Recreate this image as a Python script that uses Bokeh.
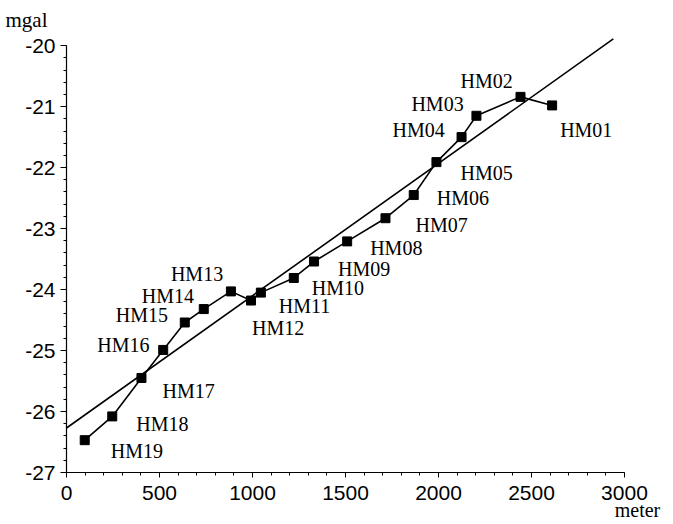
from bokeh.plotting import figure
from bokeh.models import ColumnDataSource, FixedTicker, Range1d, Title
from bokeh.core.properties import value
from bokeh.embed import file_html
from bokeh.resources import INLINE

# ---- data ----
stations = ["HM01", "HM02", "HM03", "HM04", "HM05", "HM06", "HM07", "HM08", "HM09", "HM10",
            "HM11", "HM12", "HM13", "HM14", "HM15", "HM16", "HM17", "HM18", "HM19"]
distance_m = [2611, 2441, 2204, 2124, 1989, 1867, 1715, 1509, 1331, 1222,
              1045, 992, 884, 738, 636, 520, 403, 246, 98]
gravity_mgal = [-20.98, -20.84, -21.15, -21.50, -21.91, -22.45, -22.83, -23.21, -23.54, -23.81,
                -24.05, -24.18, -24.03, -24.32, -24.54, -24.99, -25.45, -26.08, -26.47]
fit_x = [0, 2940]
fit_y = [-26.27, -19.89]
x_ticks = [0, 500, 1000, 1500, 2000, 2500, 3000]
y_ticks = [-27, -26, -25, -24, -23, -22, -21, -20]
x_unit = "meter"
y_unit = "mgal"

# ---- label placement (screen pixel offsets, styling only) ----
label_dx = [8, -60, -65, -69, 24, 23, 30, 23, 24, 18, 18, 1, -60, -62, -69, -66, 21, 24, 26]
label_dy = [25, -16, -12, -7, 11, 3, 7, 7, 7, 10, 13, 27, -17, -13, -7, -5, 13, 8, 11]

src = ColumnDataSource(dict(x=distance_m, y=gravity_mgal, name=stations, dx=label_dx, dy=label_dy))

p = figure(width=673, height=524, output_backend="svg", toolbar_location=None,
           x_range=Range1d(0, 3070), y_range=Range1d(-27, -19.85),
           min_border_left=66, min_border_right=36, min_border_top=34, min_border_bottom=52)
p.outline_line_color = None
p.xgrid.visible = False
p.ygrid.visible = False
p.background_fill_color = "white"
p.border_fill_color = "white"

p.line(fit_x, fit_y, line_color="black", line_width=1.6)
p.line("x", "y", source=src, line_color="black", line_width=1.6)
p.scatter("x", "y", source=src, marker="square", size=9, fill_color="black", line_color="black")
p.text("x", "y", text="name", source=src, x_offset="dx", y_offset="dy",
       text_font=value("Liberation Serif"), text_font_size="20px", text_color="black",
       text_align="left", text_baseline="alphabetic")

p.xaxis.ticker = FixedTicker(ticks=x_ticks, minor_ticks=list(range(0, 3001, 100)))
p.yaxis.ticker = FixedTicker(ticks=y_ticks, minor_ticks=[-27 + 0.2 * i for i in range(36)])
p.xaxis.bounds = (0, 3000)
p.yaxis.bounds = (-27, -20)
p.yaxis.major_label_overrides = {t: str(t) for t in y_ticks}
for ax in (p.xaxis[0], p.yaxis[0]):
    ax.axis_line_color = "black"
    ax.axis_line_width = 1.2
    ax.major_tick_line_color = "black"
    ax.minor_tick_line_color = "black"
    ax.major_tick_in = 0
    ax.minor_tick_in = 0
    ax.major_label_text_font = "Liberation Sans"
    ax.major_label_text_font_size = "21px"
    ax.major_label_text_color = "black"
p.xaxis.major_tick_out = 5
p.xaxis.minor_tick_out = 3
p.xaxis.major_label_standoff = 8
p.yaxis.major_tick_out = 6
p.yaxis.minor_tick_out = 3
p.yaxis.major_label_standoff = 5

# unit of the x axis, under the right end of the axis
xa = p.xaxis[0]
xa.axis_label = x_unit
xa.axis_label_text_font = "Liberation Serif"
xa.axis_label_text_font_size = "20px"
xa.axis_label_text_font_style = "normal"
xa.axis_label_text_color = "black"
xa.axis_label_standoff = -4
xa.axis_label_align = "end"

# unit of the y axis, above its top
p.add_layout(Title(text=y_unit, align="left", offset=-61, standoff=10,
                   text_font="Liberation Serif", text_font_size="21px",
                   text_font_style="normal", text_color="black"), "above")

open("out.html", "w").write(file_html(p, INLINE))
